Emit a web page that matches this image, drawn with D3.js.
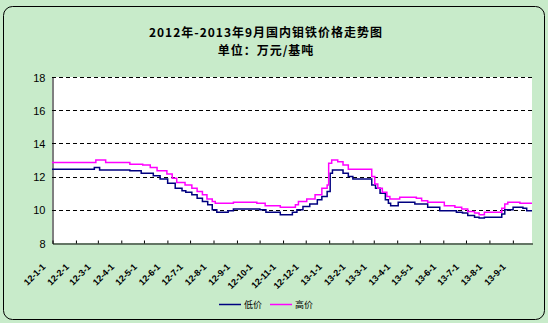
<!DOCTYPE html>
<html>
<head>
<meta charset="utf-8">
<script src="https://cdn.jsdelivr.net/npm/d3@7"></script>
<style>
  html, body { margin: 0; padding: 0; background: #c8ebca; }
  svg { display: block; }
</style>
</head>
<body>
<svg id="chart" width="548" height="323"></svg>
<script>
// Title lines
const titleLines = ["2012年-2013年9月国内钼铁价格走势图", "单位：万元/基吨"];

// Series names
const seriesNames = ["低价", "高价"];

// Month tick labels (yy-m-d)
const tickLabels = [
  "12-1-1", "12-2-1", "12-3-1", "12-4-1", "12-5-1", "12-6-1", "12-7-1",
  "12-8-1", "12-9-1", "12-10-1", "12-11-1", "12-12-1",
  "13-1-1", "13-2-1", "13-3-1", "13-4-1", "13-5-1", "13-6-1", "13-7-1",
  "13-8-1", "13-9-1"
];

// Y axis values
const yTicks = [8, 10, 12, 14, 16, 18];

// Low price: dates where the quote changes, and the new price (万元/基吨)
const lowDates = [
  "2012-01-01", "2012-02-26", "2012-03-04", "2012-04-13", "2012-04-28", "2012-05-14",
  "2012-05-23", "2012-06-02", "2012-06-12", "2012-06-21", "2012-06-26", "2012-07-04",
  "2012-07-11", "2012-07-18", "2012-07-25", "2012-07-31", "2012-08-06", "2012-08-21",
  "2012-08-28", "2012-10-02", "2012-10-10", "2012-10-29", "2012-11-14", "2012-11-20",
  "2012-11-28", "2012-12-07", "2012-12-17", "2012-12-23", "2012-12-30", "2013-01-03",
  "2013-01-06", "2013-01-20", "2013-01-27", "2013-02-02", "2013-02-27", "2013-03-04",
  "2013-03-10", "2013-03-17", "2013-03-21", "2013-03-24", "2013-04-03", "2013-04-25",
  "2013-05-12", "2013-05-28", "2013-06-19", "2013-06-27", "2013-07-04", "2013-07-13",
  "2013-07-19", "2013-07-26", "2013-08-18", "2013-08-22", "2013-09-02", "2013-09-15",
  "2013-09-20", "2013-09-27"
];
const lowValues = [
  12.45, 12.55, 12.40, 12.35, 12.20, 12.05,
  11.85, 11.60, 11.30, 11.15, 11.05, 10.90,
  10.70, 10.50, 10.30, 10.00, 9.85, 9.95,
  10.05, 10.00, 9.85, 9.70, 9.85, 10.00,
  10.20, 10.35, 10.60, 10.80, 11.10, 12.20,
  12.40, 12.20, 12.00, 11.85, 11.50, 11.30,
  11.00, 10.60, 10.40, 10.25, 10.45, 10.35,
  10.15, 9.95, 9.85, 9.80, 9.65, 9.55,
  9.50, 9.55, 9.75, 10.00, 10.15, 10.10,
  9.95, 9.95
];

// High price
const highDates = [
  "2012-01-01", "2012-02-28", "2012-03-12", "2012-04-13", "2012-04-30", "2012-05-10",
  "2012-05-19", "2012-06-01", "2012-06-08", "2012-06-14", "2012-06-25", "2012-07-04",
  "2012-07-11", "2012-07-18", "2012-07-24", "2012-07-31", "2012-08-04", "2012-08-28",
  "2012-09-28", "2012-10-09", "2012-10-29", "2012-11-18", "2012-11-22", "2012-12-03",
  "2012-12-14", "2012-12-23", "2012-12-30", "2013-01-01", "2013-01-05", "2013-01-13",
  "2013-01-20", "2013-01-27", "2013-02-27", "2013-03-03", "2013-03-07", "2013-03-13",
  "2013-03-19", "2013-03-23", "2013-04-05", "2013-04-27", "2013-05-04", "2013-05-12",
  "2013-06-03", "2013-06-17", "2013-06-26", "2013-07-04", "2013-07-13", "2013-07-19",
  "2013-07-26", "2013-08-18", "2013-08-22", "2013-08-26", "2013-09-11", "2013-09-27"
];
const highValues = [
  12.85, 13.00, 12.85, 12.75, 12.70, 12.55,
  12.35, 12.15, 11.90, 11.65, 11.50, 11.30,
  11.10, 10.90, 10.65, 10.50, 10.40, 10.45,
  10.40, 10.25, 10.15, 10.30, 10.50, 10.65,
  10.90, 11.30, 11.50, 12.80, 13.00, 12.90,
  12.70, 12.45, 12.00, 11.55, 11.30, 11.05,
  10.80, 10.65, 10.75, 10.70, 10.55, 10.45,
  10.25, 10.15, 10.05, 9.90, 9.80, 9.70,
  9.85, 10.10, 10.35, 10.45, 10.40, 10.40
];

const seriesColors = ["#000080", "#ff00ff"];

const parseDay = d3.timeParse("%Y-%m-%d");
const parseTick = d3.timeParse("%y-%m-%d");

const svg = d3.select("#chart");
const W = 548, H = 323;

// Chart area background and rounded frame
svg.append("rect").attr("x", 0).attr("y", 0).attr("width", W).attr("height", H)
  .attr("fill", "#c8ebca");
svg.append("rect").attr("x", 3.5).attr("y", 6.5).attr("width", 541).attr("height", 313)
  .attr("rx", 9).attr("ry", 9)
  .attr("fill", "#c8ebca").attr("stroke", "#000").attr("stroke-width", 1);

// Plot area
const plot = { left: 52, right: 532, top: 77, bottom: 243 };

const x = d3.scaleTime()
  .domain([parseDay("2012-01-01"), parseDay("2013-09-27")])
  .range([plot.left, plot.right]);
const y = d3.scaleLinear().domain([8, 18]).range([plot.bottom, plot.top]);

svg.append("rect")
  .attr("x", plot.left).attr("y", plot.top)
  .attr("width", plot.right - plot.left).attr("height", plot.bottom - plot.top)
  .attr("fill", "#fff");

// Dashed gridlines
svg.append("g").selectAll("line")
  .data(yTicks.filter(v => v > 8))
  .join("line")
  .attr("x1", plot.left).attr("x2", plot.right)
  .attr("y1", d => Math.round(y(d)) + 0.5).attr("y2", d => Math.round(y(d)) + 0.5)
  .attr("stroke", "#000").attr("stroke-width", 1)
  .attr("stroke-dasharray", "4,3");

// Y axis
const yAxis = svg.append("g")
  .attr("transform", `translate(${plot.left + 0.5},0.5)`)
  .call(d3.axisLeft(y).tickValues(yTicks).tickSize(0).tickPadding(7).tickFormat(d3.format("d")));
yAxis.select(".domain").attr("stroke", "#000");
yAxis.selectAll("text")
  .attr("font-family", "'Liberation Sans', Arial, sans-serif")
  .attr("font-size", 11).attr("fill", "#000");

// X axis with month ticks
const tickDates = tickLabels.map(s => parseTick(s));
const xAxis = svg.append("g")
  .attr("transform", `translate(0.5,${plot.bottom + 0.5})`)
  .call(d3.axisBottom(x).tickValues(tickDates).tickSizeInner(-3).tickSizeOuter(0)
    .tickFormat((d, i) => tickLabels[i]));
xAxis.select(".domain").attr("stroke", "#000");
xAxis.selectAll(".tick line").attr("stroke", "#000");
xAxis.selectAll("text")
  .attr("font-family", "'Liberation Sans', Arial, sans-serif")
  .attr("font-size", 9).attr("font-weight", "bold").attr("fill", "#000")
  .attr("text-anchor", "end")
  .attr("y", 0).attr("dy", 0)
  .attr("transform", "translate(-7,24) rotate(-45)");

// Price lines
const line = d3.line()
  .x(d => x(d.date))
  .y(d => y(d.value))
  .curve(d3.curveStepAfter);

const lowSeries = lowDates.map((d, i) => ({ date: parseDay(d), value: lowValues[i] }));
const highSeries = highDates.map((d, i) => ({ date: parseDay(d), value: highValues[i] }));

[lowSeries, highSeries].forEach((s, i) => {
  svg.append("path")
    .datum(s)
    .attr("d", line)
    .attr("fill", "none")
    .attr("stroke", seriesColors[i])
    .attr("stroke-width", 1.5);
});

// Title
svg.append("g").selectAll("text")
  .data(titleLines)
  .join("text")
  .attr("x", 266).attr("y", (d, i) => 37 + i * 18)
  .attr("text-anchor", "middle")
  .attr("font-family", "'Noto Sans CJK SC', sans-serif")
  .attr("font-weight", "bold").attr("font-size", 12)
  .attr("letter-spacing", 1)
  .attr("fill", "#000")
  .text(d => d);

// Legend
const legend = svg.append("g").attr("transform", "translate(219,304)");
const legendItems = legend.selectAll("g")
  .data(seriesNames)
  .join("g")
  .attr("transform", (d, i) => `translate(${i * 51},0)`);
legendItems.append("line")
  .attr("x1", 0).attr("x2", 22).attr("y1", 0.5).attr("y2", 0.5)
  .attr("stroke", (d, i) => seriesColors[i]).attr("stroke-width", 1.5);
legendItems.append("text")
  .attr("x", 25).attr("y", 4)
  .attr("font-family", "'Noto Sans CJK SC', sans-serif")
  .attr("font-size", 9).attr("fill", "#000")
  .text(d => d);
</script>
</body>
</html>
